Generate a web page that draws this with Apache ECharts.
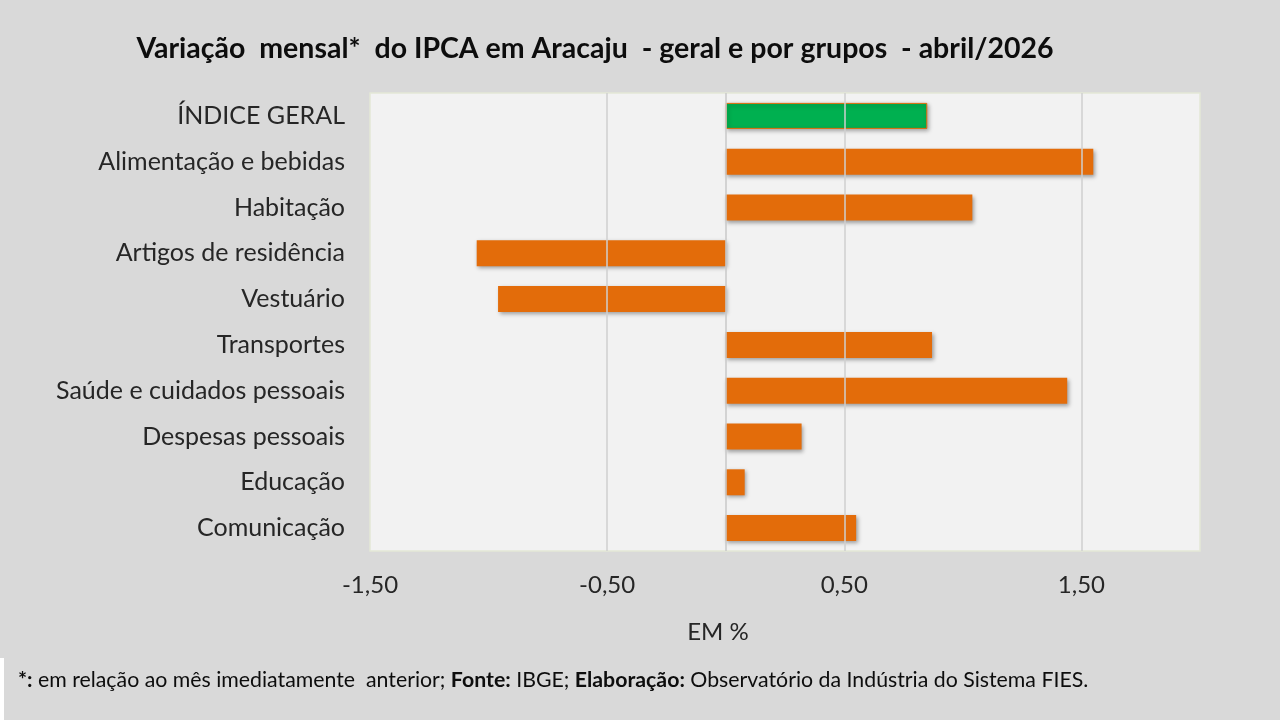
<!DOCTYPE html>
<html>
<head>
<meta charset="utf-8">
<script src="https://cdn.jsdelivr.net/npm/echarts@6/dist/echarts.min.js"></script>
<style>
html,body{margin:0;padding:0;background:#D9D9D9;}
#chart{width:1280px;height:720px;}
</style>
</head>
<body>
<div id="chart"></div>
<script>
// grupos do IPCA (de cima para baixo)
var grupos = ['ÍNDICE GERAL', 'Alimentação e bebidas', 'Habitação', 'Artigos de residência', 'Vestuário',
  'Transportes', 'Saúde e cuidados pessoais', 'Despesas pessoais', 'Educação', 'Comunicação'];
// variação mensal, em %
var variacao = [0.85, 1.55, 1.04, -1.05, -0.96, 0.87, 1.44, 0.32, 0.08, 0.55];
// linhas de grade verticais
var grade = [-0.5, 0.5, 1.5];

var fonte = 'Lato, "Open Sans", sans-serif';
var laranja = '#E36C0A', verde = '#00B050';

var chart = echarts.init(document.getElementById('chart'));

var dados = variacao.map(function(v, i) {
  if (i == 0) {
    return {value: v, itemStyle: {color: verde, borderColor: laranja, borderWidth: 1}};
  }
  return v;
});

var option = {
  backgroundColor: '#D9D9D9',
  animation: false,
  title: {
    text: 'Variação  mensal*  do IPCA em Aracaju  - geral e por grupos  - abril/2026',
    left: 590, top: 29, textAlign: 'center',
    textStyle: {fontFamily: fonte, fontWeight: 'bold', fontSize: 28.5, color: '#0D0D0D'}
  },
  grid: {
    left: 370, right: 80, top: 93, bottom: 169,
    show: true, backgroundColor: '#F2F2F2', borderColor: '#E3E8D6', borderWidth: 1.5
  },
  xAxis: {
    type: 'value', min: -1.5, max: 2, interval: 1,
    axisLine: {show: false}, axisTick: {show: false}, splitLine: {show: false},
    axisLabel: {
      margin: 22, fontFamily: fonte, fontSize: 24, color: '#262626',
      formatter: function(v) {
        if (v > 1.9) return '';
        return v.toFixed(2).replace('.', ',');
      }
    }
  },
  yAxis: {
    type: 'category', data: grupos, inverse: true,
    axisLine: {show: false}, axisTick: {show: false},
    axisLabel: {margin: 25, fontFamily: fonte, fontSize: 25, color: '#262626'}
  },
  series: [
    {
      // só para as linhas de grade ficarem atrás das barras
      type: 'line', data: [], z: 1, silent: true,
      markLine: {
        silent: true, symbol: 'none', label: {show: false},
        lineStyle: {color: '#CFCFCF', width: 1.5, type: 'solid'},
        data: grade.map(function(g) { return {xAxis: g}; })
          .concat([{xAxis: 0, lineStyle: {color: '#C8C8C8', width: 1.5, type: 'solid'}}])
      }
    },
    {
      type: 'bar', data: dados, barWidth: 26, z: 3,
      itemStyle: {
        color: laranja,
        shadowColor: 'rgba(0,0,0,0.35)', shadowBlur: 4, shadowOffsetX: 1.5, shadowOffsetY: 2
      }
    }
  ],
  graphic: [
    {type: 'text', x: 718, y: 620, style: {text: 'EM %', font: '24px ' + fonte, fill: '#262626', align: 'center', textAlign: 'center'}},
    {type: 'rect', left: 0, top: 658, shape: {width: 4, height: 62}, style: {fill: '#FFFFFF'}},
    {
      type: 'text', left: 18, top: 670,
      style: {
        text: '{b|*:} em relação ao mês imediatamente  anterior; {b|Fonte:} IBGE; {b|Elaboração:} Observatório da Indústria do Sistema FIES.',
        font: '21.3px ' + fonte, fill: '#0D0D0D',
        rich: {b: {fontWeight: 'bold', fontFamily: fonte, fontSize: 21.3, fill: '#0D0D0D'}}
      }
    }
  ]
};

chart.setOption(option);
</script>
</body>
</html>
